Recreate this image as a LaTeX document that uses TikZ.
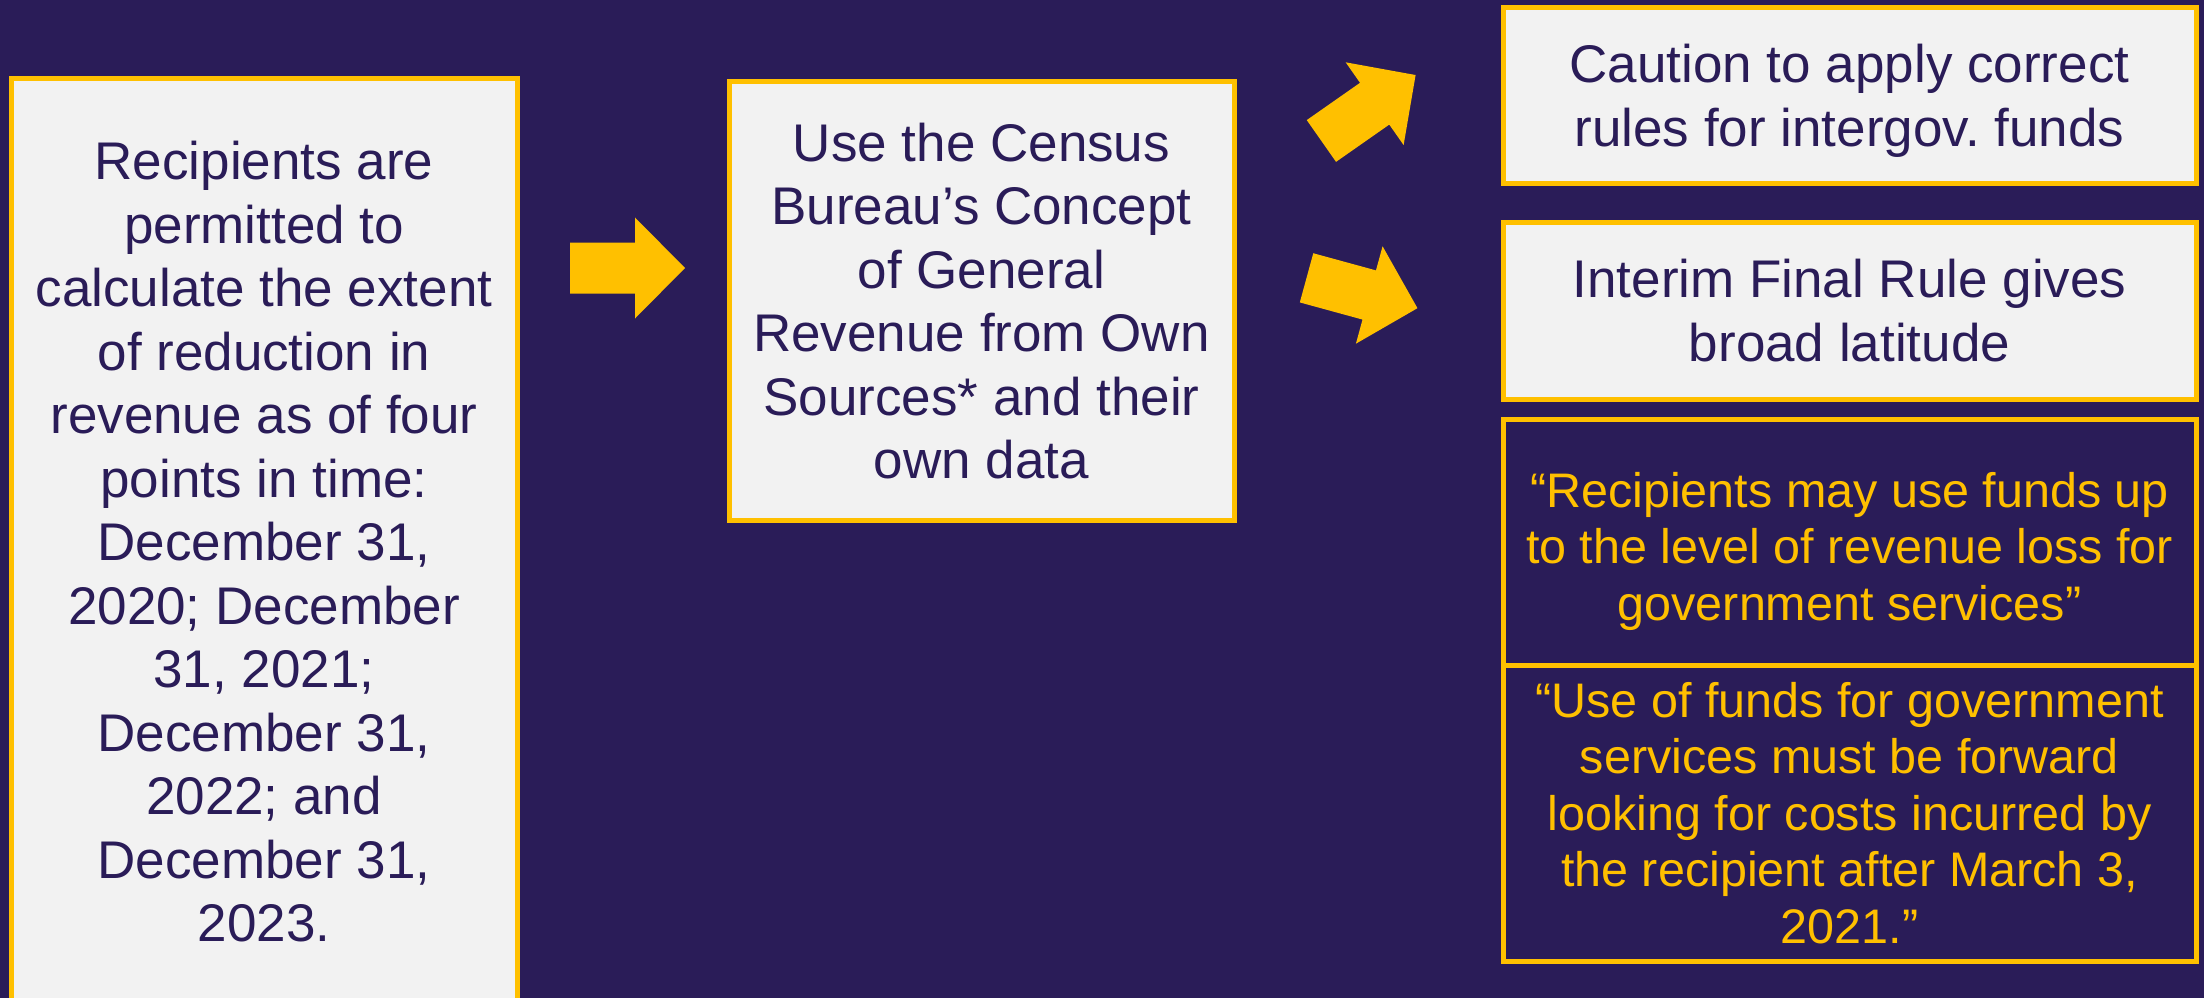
\documentclass[tikz,border=0pt]{standalone}
\usepackage{fontspec}
\setmainfont{Liberation Sans}
\frenchspacing
\definecolor{navy}{RGB}{42,28,88}
\definecolor{gold}{RGB}{255,192,0}
\definecolor{paper}{RGB}{242,242,242}
\begin{document}
\begin{tikzpicture}[x=1pt,y=-1pt,
  lightbox/.style={draw=gold, line width=5pt, fill=paper, text=navy,
    inner sep=0pt, outer sep=0pt, align=center,
    font=\fontsize{53}{63.5}\selectfont},
  quotebox/.style={draw=gold, line width=5pt, fill=navy, text=gold,
    inner sep=0pt, outer sep=0pt, align=center,
    font=\fontsize{48.5}{56.5}\selectfont},
  lighttext/.style={text=navy, inner sep=0pt, align=center,
    font=\fontsize{53}{63.5}\selectfont},
  quotetext/.style={text=gold, inner sep=0pt, align=center,
    font=\fontsize{48.5}{56.5}\selectfont},
  blockarrow/.style={fill=gold}]
  % page and background
  \useasboundingbox (0,0) rectangle (2204,998);
  \clip (0,0) rectangle (2204,998);
  \fill[navy] (0,0) rectangle (2204,998);

  % left column
  \node[lightbox, minimum width=506, minimum height=926] (recip) at (264,542)
    {Recipients are\\permitted to\\calculate the extent\\of reduction in\\revenue as of four\\points in time:\\December 31,\\2020; December\\31, 2021;\\December 31,\\2022; and\\December 31,\\2023.};

  % middle column
  \node[lightbox, minimum width=505, minimum height=438] (census) at (981.5,301)
    {Use the Census\\Bureau’s Concept\\of General\\Revenue from Own\\Sources* and their\\own data};

  % right column
  \node[lightbox, minimum width=693, minimum height=175] (caution) at (1849.5,95.5) {};
  \node[lighttext] (cautiontext) at (1849.5,101)
    {Caution to apply correct\\rules for intergov. funds};
  \node[lightbox, minimum width=693, minimum height=177] (interim) at (1849.5,310.5)
    {Interim Final Rule gives\\broad latitude};
  \node[quotebox, minimum width=693, minimum height=246] (quoteA) at (1849.5,542) {};
  \node[quotetext] (quoteAtext) at (1849.5,551)
    {“Recipients may use funds up\\to the level of revenue loss for\\government services”};
  \node[quotebox, minimum width=693, minimum height=296] (quoteB) at (1849.5,813)
    {“Use of funds for government\\services must be forward\\looking for costs incurred by\\the recipient after March 3,\\2021.”};

  % block arrows between the columns
  \def\blockarrowpath{(-57.5,-25.5) -- (7.5,-25.5) -- (7.5,-50.5) -- (57.5,0)
    -- (7.5,50.5) -- (7.5,25.5) -- (-57.5,25.5) -- cycle}
  \fill[blockarrow, shift={(627.5,268)}] \blockarrowpath;
  \fill[blockarrow, shift={(1368.5,108)}, rotate=35] \blockarrowpath;
  \fill[blockarrow, shift={(1362,293)}, rotate=-15.3] \blockarrowpath;
\end{tikzpicture}
\end{document}
